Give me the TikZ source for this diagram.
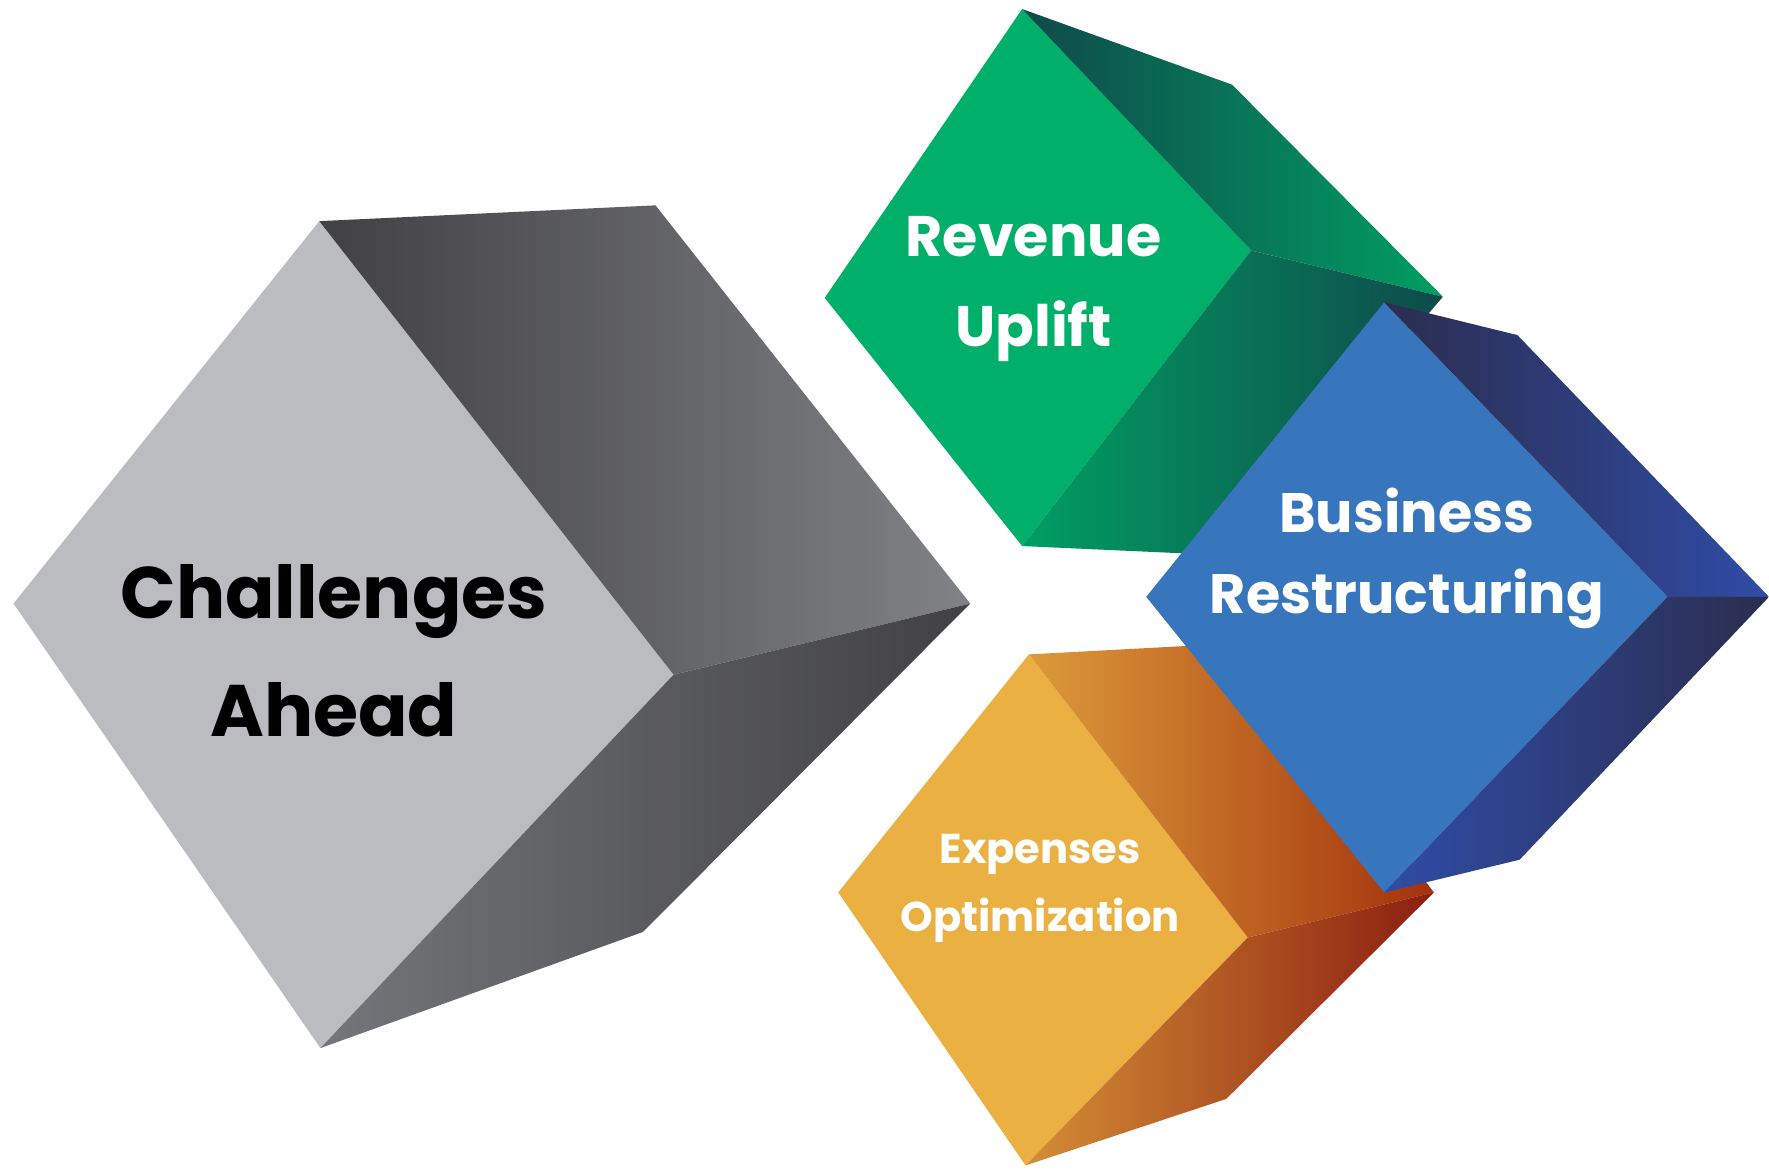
\documentclass[tikz,border=0pt]{standalone}
\usepackage{fontspec}
\setmainfont{Poppins}
\usepackage{xcolor}

\definecolor{grayfront}{HTML}{BBBCBF}
\definecolor{graydark}{HTML}{414143}
\definecolor{graylight}{HTML}{818286}
\definecolor{greenfront}{HTML}{00AF69}
\definecolor{greendark}{HTML}{0F4A4B}
\definecolor{greenlight}{HTML}{009E62}
\definecolor{bluefront}{HTML}{3776BD}
\definecolor{bluedark}{HTML}{2B2D4E}
\definecolor{bluelight}{HTML}{2F4CA6}
\definecolor{orangefront}{HTML}{EAB042}
\definecolor{orangelight}{HTML}{DC9A3A}
\definecolor{orangedark}{HTML}{8C1E10}

\begin{document}
\begin{tikzpicture}[x=0.01cm,y=-0.01cm,
    face/.style={draw=none},
    cube text/.style={align=center,font=\bfseries,anchor=base}]

    \useasboundingbox (0,0) rectangle (1568,1041);

    % challenges ahead
    \coordinate (gL)  at (12,535);
    \coordinate (gT)  at (283,196);
    \coordinate (gTB) at (581,182);
    \coordinate (gR)  at (860,535);
    \coordinate (gC)  at (597,598);
    \coordinate (gBB) at (570,826);
    \coordinate (gB)  at (284,929);
    \fill[grayfront] (gL) -- (gT) -- (gC) -- (gB) -- cycle;
    \shade[face,left color=graydark,right color=graylight] (gT) -- (gTB) -- (gR) -- (gC) -- cycle;
    \shade[face,left color=graylight!110,right color=graydark] (gC) -- (gR) -- (gBB) -- (gB) -- cycle;
    \node[cube text,text=black,font=\bfseries\fontsize{18.4}{29.9}\selectfont] (challenges) at (296,653) {Challenges\\Ahead};

    % revenue uplift
    \coordinate (rL)  at (731,264);
    \coordinate (rT)  at (906,8);
    \coordinate (rTB) at (1092,75);
    \coordinate (rR)  at (1279,263);
    \coordinate (rC)  at (1109,222);
    \coordinate (rBB) at (1083,492);
    \coordinate (rB)  at (906,484);
    \fill[greenfront] (rL) -- (rT) -- (rC) -- (rB) -- cycle;
    \shade[face,left color=greendark,right color=greenlight] (rT) -- (rTB) -- (rR) -- (rC) -- cycle;
    \shade[face,left color=greenlight,right color=greendark] (rC) -- (rR) -- (rBB) -- (rB) -- cycle;
    \node[cube text,text=white,font=\bfseries\fontsize{14.4}{22.6}\selectfont] (revenue) at (916,307) {Revenue\\Uplift};

    % expenses optimization
    \coordinate (oL)  at (743,791);
    \coordinate (oT)  at (912,580);
    \coordinate (oTB) at (1100,570);
    \coordinate (oR)  at (1271,791);
    \coordinate (oC)  at (1106,831);
    \coordinate (oBB) at (1087,974);
    \coordinate (oB)  at (909,1033);
    \fill[orangefront] (oL) -- (oT) -- (oC) -- (oB) -- cycle;
    \shade[face,left color=orangelight,right color=orangedark!80!orange] (oT) -- (oTB) -- (oR) -- (oC) -- cycle;
    \shade[face,left color=orangelight!90!orangedark,right color=orangedark] (oC) -- (oR) -- (oBB) -- (oB) -- cycle;
    \node[cube text,text=white,font=\bfseries\fontsize{10.5}{17.2}\selectfont] (expenses) at (922,826) {Expenses\\Optimization};

    % business restructuring
    \coordinate (bL)  at (1016,529);
    \coordinate (bT)  at (1227,268);
    \coordinate (bTB) at (1345,297);
    \coordinate (bR)  at (1568,529);
    \coordinate (bC)  at (1478,529);
    \coordinate (bBB) at (1347,762);
    \coordinate (bB)  at (1227,791);
    \fill[bluefront] (bL) -- (bT) -- (bC) -- (bB) -- cycle;
    \shade[face,left color=bluedark,right color=bluelight] (bT) -- (bTB) -- (bR) -- (bC) -- cycle;
    \shade[face,left color=bluelight,right color=bluedark] (bC) -- (bR) -- (bBB) -- (bB) -- cycle;
    \node[cube text,text=white,font=\bfseries\fontsize{14.0}{20.5}\selectfont] (business) at (1247,544) {Business\\Restructuring};
\end{tikzpicture}
\end{document}
